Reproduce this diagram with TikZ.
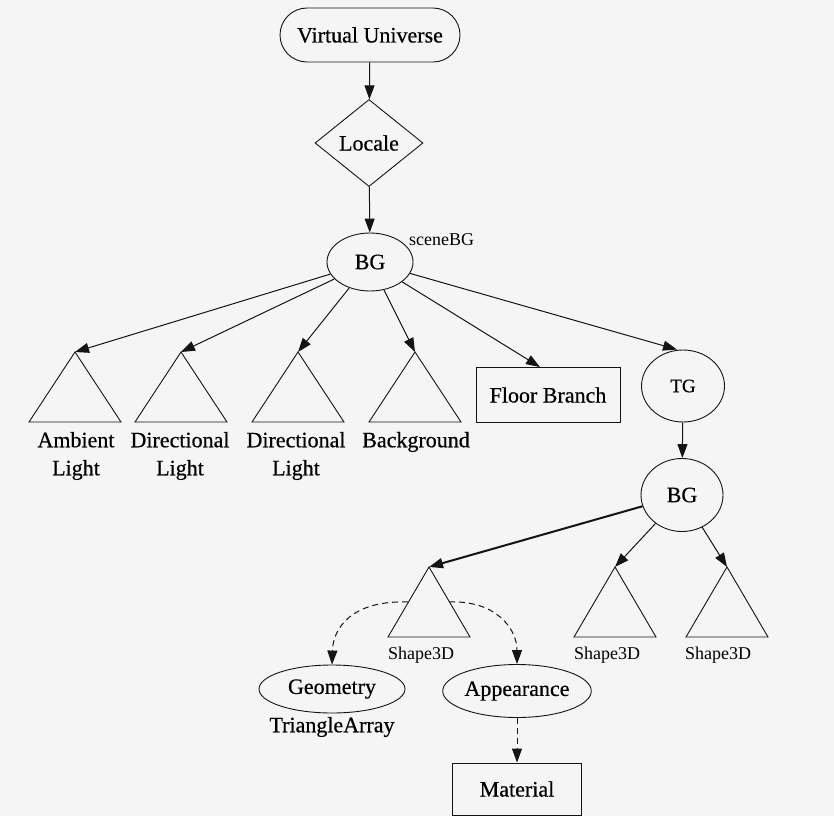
\documentclass[tikz,border=0pt]{standalone}
\usepackage{fontspec}
\setmainfont{Liberation Serif}
\newfontfamily\labelfont[FakeBold=0.5]{Liberation Serif}
\usetikzlibrary{shapes.geometric,arrows.meta}
\definecolor{paper}{RGB}{245,245,245}
\definecolor{ink}{RGB}{20,20,20}
\begin{document}
\begin{tikzpicture}[x=1pt,y=-1pt,
  edge/.style={draw=ink, line width=1pt, -{Triangle[length=14pt,width=10pt]}},
  boldedge/.style={edge, line width=2pt},
  ref/.style={edge, dash pattern=on 6pt off 4pt},
  outline/.style={draw=ink, line width=0.9pt},
  big/.style={font=\labelfont\fontsize{22}{28}\selectfont},
  small/.style={font=\fontsize{18}{19}\selectfont},
  oval/.style={outline, ellipse, inner sep=0pt},
  box/.style={outline, rectangle, inner sep=0pt},
  tri/.style={outline, line join=miter},
  lbl/.style={big, align=center, inner sep=0pt}]
\fill[paper] (0,0) rectangle (834,816);
\useasboundingbox (0,0) rectangle (834,816);

% top chain
\node[outline, big, rounded corners=27pt, minimum width=180pt, minimum height=54pt] (vu) at (370,35) {Virtual Universe};
\node[outline, diamond, big, minimum width=108pt, minimum height=87pt, inner sep=0pt] (loc) at (369,143) {Locale};
\node[oval, big, minimum width=86pt, minimum height=58pt] (bg) at (370,262) {BG};
\node[small, anchor=west, inner sep=0pt] (sbg) at (409,240) {sceneBG};

% scene branch group leaves
\coordinate (amb) at (75,352);
\coordinate (dir1) at (181,352);
\coordinate (dir2) at (298,352);
\coordinate (back) at (415,352);
\draw[tri] (amb) -- ++(-46,70) -- ++(92,0) -- cycle;
\draw[tri] (dir1) -- ++(-46,70) -- ++(92,0) -- cycle;
\draw[tri] (dir2) -- ++(-46,70) -- ++(92,0) -- cycle;
\draw[tri] (back) -- ++(-46,70) -- ++(92,0) -- cycle;
\node[lbl] (ambl) at (76,456) {Ambient\\Light};
\node[lbl] (dir1l) at (180,456) {Directional\\Light};
\node[lbl] (dir2l) at (296,456) {Directional\\Light};
\node[lbl] (backl) at (416,442) {Background};

\node[box, big, minimum width=144pt, minimum height=55pt] (fb) at (548,395) {Floor Branch};
\node[oval, minimum width=83pt, minimum height=72pt, font=\labelfont\fontsize{19}{22}\selectfont] (tg) at (683,386) {TG};
\node[oval, big, minimum width=82pt, minimum height=73pt] (bg2) at (682,495) {BG};

% shape leaves
\coordinate (s1) at (429,567);
\coordinate (s2) at (615,567);
\coordinate (s3) at (727,567);
\draw[tri] (s1) -- ++(-41,70) -- ++(82,0) -- cycle;
\draw[tri] (s2) -- ++(-41,70) -- ++(82,0) -- cycle;
\draw[tri] (s3) -- ++(-41,70) -- ++(82,0) -- cycle;
\coordinate (s1l) at (408,602);
\coordinate (s1r) at (449,602);
\node[small] (s1t) at (421,655) {Shape3D};
\node[small] (s2t) at (607,655) {Shape3D};
\node[small] (s3t) at (718,655) {Shape3D};

\node[oval, big, minimum width=146pt, minimum height=48pt] (geo) at (332,689) {Geometry};
\node[big, inner sep=0pt] (tri) at (332,727) {TriangleArray};
\node[oval, big, minimum width=129pt, minimum height=53pt] (app) at (517,691) {Appearance};
\node[box, big, minimum width=129pt, minimum height=52pt] (mat) at (517,789) {Material};

% connectors
\draw[edge] (vu) -- (loc);
\draw[edge] (loc) -- (bg);
\draw[edge] (bg) -- (amb);
\draw[edge] (bg) -- (dir1);
\draw[edge] (bg) -- (dir2);
\draw[edge] (bg) -- (back);
\draw[edge] (bg) -- ([xshift=-8pt]fb.north);
\draw[edge] (bg) -- ([xshift=-6pt]tg.north);
\draw[edge] (tg) -- (bg2);
\draw[boldedge] (bg2) -- (s1);
\draw[edge] (bg2) -- (s2);
\draw[edge] (bg2) -- (s3);
\draw[ref] (s1l) .. controls (352,600) and (333,628) .. (geo.north);
\draw[ref] (s1r) .. controls (495,600) and (517,628) .. (app.north);
\draw[ref] (app) -- (mat);
\end{tikzpicture}
\end{document}
